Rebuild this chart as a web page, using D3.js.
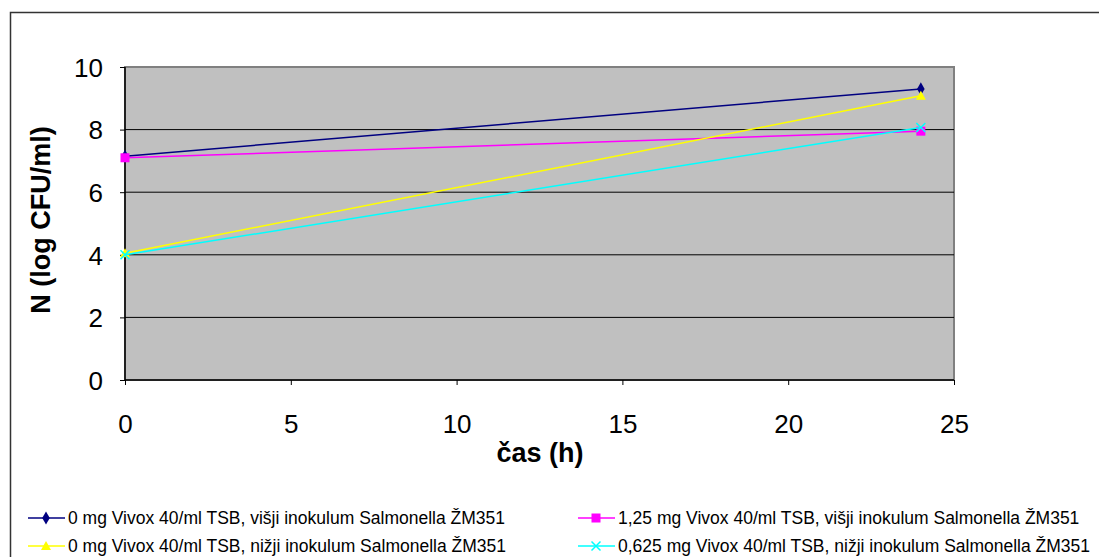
<!DOCTYPE html>
<html><head><meta charset="utf-8">
<script src="https://cdn.jsdelivr.net/npm/d3@7"></script>
<style>body{margin:0;background:#fff}svg{display:block;font-family:"Liberation Sans",Arial,sans-serif}</style>
</head><body><svg id="c" width="1099" height="557"></svg>
<script>
const times = [0, 24];
const seriesNames = [
  "0 mg Vivox 40/ml TSB, višji inokulum Salmonella ŽM351",
  "1,25 mg Vivox 40/ml TSB, višji inokulum Salmonella ŽM351",
  "0 mg Vivox 40/ml TSB, nižji inokulum Salmonella ŽM351",
  "0,625 mg Vivox 40/ml TSB, nižji inokulum Salmonella ŽM351"
];
const s1 = [7.15, 9.3];
const s2 = [7.1, 7.95];
const s3 = [4.05, 9.08];
const s4 = [4.0, 8.07];
const xTicks = [0, 5, 10, 15, 20, 25];
const yTicks = [0, 2, 4, 6, 8, 10];
const colors = ["#000080", "#FF00FF", "#FFFF00", "#00FFFF"];
const markers = ["diamond", "square", "triangle", "x"];
const allSeries = [s1, s2, s3, s4];

const svg = d3.select("#c");
const L = 125, R = 954, T = 67, B = 380;
const x = d3.scaleLinear().domain([0, 25]).range([L, R]);
const y = d3.scaleLinear().domain([0, 10]).range([B, T]);

// outer frame
svg.append("rect").attr("x", 10.5).attr("y", 12.5).attr("width", 1100).attr("height", 600)
  .attr("fill", "none").attr("stroke", "#333").attr("stroke-width", 1.5);

// plot bg
svg.append("rect").attr("x", L).attr("y", T).attr("width", R - L).attr("height", B - T)
  .attr("fill", "#C0C0C0").attr("stroke", "#808080").attr("stroke-width", 2);

// gridlines
svg.append("g").selectAll("line").data(yTicks.filter(d => d > 0 && d < 10)).join("line")
  .attr("x1", L).attr("x2", R).attr("y1", d => y(d)).attr("y2", d => y(d))
  .attr("stroke", "#000").attr("stroke-width", 1);

// axes
const yAxis = svg.append("g").attr("transform", `translate(${L},0)`)
  .call(d3.axisLeft(y).tickValues(yTicks).tickSize(5).tickPadding(17));
const xAxis = svg.append("g").attr("transform", `translate(0,${B})`)
  .call(d3.axisBottom(x).tickValues(xTicks).tickSize(5).tickPadding(30));
[yAxis, xAxis].forEach(a => {
  a.attr("font-size", 26).attr("font-family", "Liberation Sans, Arial, sans-serif");
  a.select(".domain").attr("stroke", "#000").attr("stroke-width", 1.5);
  a.selectAll(".tick line").attr("stroke", "#000");
  a.selectAll("text").style("font-size", "26px").attr("fill", "#000");
});
yAxis.selectAll("text").attr("dy", "0.36em");
yAxis.select(".domain").attr("d", `M0,${T}V${B}`);
xAxis.select(".domain").attr("d", `M${L},0H${R}`);

// axis titles
svg.append("text").attr("x", 540).attr("y", 462).attr("text-anchor", "middle")
  .style("font-size", "27px").attr("font-weight", "bold").text("čas (h)");
svg.append("text").attr("transform", "translate(50,220) rotate(-90)").attr("text-anchor", "middle")
  .style("font-size", "27px").attr("font-weight", "bold").text("N (log CFU/ml)");

function drawMarker(g, type, cx, cy, color) {
  if (type === "diamond") {
    g.append("path").attr("d", d3.symbol(d3.symbolDiamond, 50)()).attr("transform", `translate(${cx},${cy})`).attr("fill", color);
  } else if (type === "square") {
    g.append("rect").attr("x", cx - 4.5).attr("y", cy - 4.5).attr("width", 9).attr("height", 9).attr("fill", color);
  } else if (type === "triangle") {
    g.append("path").attr("d", `M${cx},${cy - 5}L${cx + 5},${cy + 4}L${cx - 5},${cy + 4}Z`).attr("fill", color);
  } else {
    g.append("path").attr("d", `M${cx - 4.5},${cy - 4.5}L${cx + 4.5},${cy + 4.5}M${cx + 4.5},${cy - 4.5}L${cx - 4.5},${cy + 4.5}`)
      .attr("stroke", color).attr("stroke-width", 1.5);
  }
}

const line = d3.line().x((d, i) => x(times[i])).y(d => y(d));
allSeries.forEach((s, k) => {
  const g = svg.append("g");
  g.append("path").attr("d", line(s)).attr("fill", "none").attr("stroke", colors[k]).attr("stroke-width", 1.5);
  s.forEach((v, i) => drawMarker(g, markers[k], x(times[i]), y(v), colors[k]));
});

// legend
const legPos = [[28, 518], [578, 518], [28, 546], [578, 546]];
seriesNames.forEach((name, k) => {
  const [lx, ly] = legPos[k];
  const g = svg.append("g");
  g.append("line").attr("x1", lx).attr("x2", lx + 37).attr("y1", ly).attr("y2", ly)
    .attr("stroke", colors[k]).attr("stroke-width", 1.5);
  drawMarker(g, markers[k], lx + 18, ly, colors[k]);
  g.append("text").attr("x", lx + 40).attr("y", ly + 6).style("font-size", "17.5px").attr("fill", "#000").text(name);
});
</script></body></html>
